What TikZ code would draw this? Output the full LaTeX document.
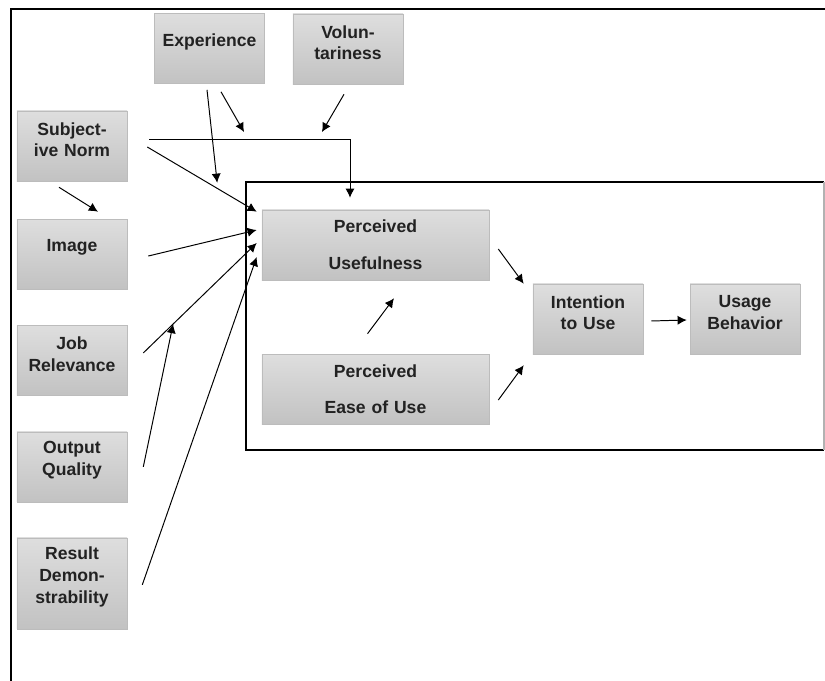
\documentclass[tikz,border=0pt]{standalone}
\usepackage{fontspec}
\setmainfont{Liberation Sans}
\usepackage{tikz}
\usetikzlibrary{positioning,calc,arrows.meta}
\usepackage{xcolor}
\definecolor{boxtop}{HTML}{DEDEDE}
\definecolor{boxbot}{HTML}{C2C2C2}
\definecolor{boxline}{HTML}{BCBCBC}
\definecolor{txt}{HTML}{222222}
\tikzstyle{box} = [rectangle, draw=boxline, top color=boxtop, bottom color=boxbot, text centered, inner sep=0pt, text=txt]
\tikzstyle{block} = [box, text width=2.7cm, minimum width=2.75cm, minimum height=1.75cm, execute at end node={\endgraf\vspace*{9pt}}, font=\bfseries\fontsize{12.5}{15.5}\selectfont]
\tikzstyle{wide} = [box, minimum width=5.675cm, text width=5.6cm, minimum height=1.75cm, font=\bfseries\fontsize{12.5}{26}\selectfont]
\tikzstyle{line} = [draw, line width=0.7pt, -{Latex[length=6.5pt,width=6.5pt]}]
\tikzstyle{frame} = [draw, line width=0.9pt]

\begin{document}
\begin{tikzpicture}[x=0.025cm, y=-0.025cm]
  	\useasboundingbox (0,0) rectangle (825,681);
  	%% frames
  	\draw[frame] (825,9) -- (11,9) -- (11,681);
  	\draw[frame] (824,182) -- (246,182) -- (246,450) -- (824,450);
  	\draw[frame, draw=black!30] (824,182) -- (824,450);
  	%% moderators
  	\node[block] (Exp) at (209.5,48.5) {Experience};
  	\node[block] (Vol) at (348,49) {Volun-\\tariness};
  	%% left column
  	\node[block] (SN) at (72,146) {Subject-\\ive Norm};
  	\node[block, below of=SN, node distance=2.7cm] (Img) {Image};
  	\node[block, below of=Img, node distance=2.66cm] (JR) {Job\\Relevance};
  	\node[block, below of=JR, node distance=2.66cm] (OQ) {Output\\Quality};
  	\node[block, below of=OQ, node distance=2.91cm, minimum height=2.275cm] (RD) {Result\\Demon-\\strability};
  	%% core model
  	\node[wide] (PU) at (375.5,245) {Perceived\\Usefulness};
  	\node[wide, below of=PU, node distance=3.6cm] (PEOU) {Perceived\\Ease of Use};
  	\node[block] (ITU) at (588,319) {Intention\\to Use};
  	\node[block, right of=ITU, node distance=3.925cm] (UB) {Usage\\Behavior};
  	%% edges
  	\path[line] ($(SN.east)+(22,-7)$) -| coordinate[pos=0.246] (modE) coordinate[pos=0.42] (modV) ($(PU.north)+(-25.5,-12)$);
  	\path[line] ($(SN.east)+(20,1)$) -- coordinate[pos=0.645] (modX) ($(PU.north west)+(-5,2)$);
  	\path[line] ($(SN.south)+(-13,6)$) -- ($(Img.north)+(26,-7)$);
  	\path[line] ($(Img.east)+(21,2)$) -- ($(PU.west)+(-5,-15)$);
  	\path[line] ($(JR.east)+(16,-7.5)$) -- coordinate[pos=0.263] (modJ) ($(PU.west)+(-5,-2)$);
  	\path[line] ($(OQ.east)+(16,0)$) -- (modJ);
  	\path[line] ($(RD.east)+(15,1.5)$) -- ($(PU.west)+(-5,12)$);
  	\path[line, shorten >=0.15cm] ($(Exp.south)+(-2.5,6)$) -- (modX);
  	\path[line, shorten >=0.2cm] ($(Exp.south)+(11.5,8)$) -- (modE);
  	\path[line, shorten >=0.2cm] ($(Vol.south)+(-4,10)$) -- (modV);
  	\path[line] ($(PEOU.north)+(-8,-20)$) -- ($(PU.south)+(18.5,18)$);
  	\path[line] ($(PU.east)+(9,4)$) -- ($(ITU.north west)+(-9,0)$);
  	\path[line] ($(PEOU.east)+(9,11)$) -- ($(ITU.south west)+(-9,11)$);
  	\path[line] ($(ITU.east)+(8,2)$) -- ($(UB.west)+(-3,1)$);
\end{tikzpicture}
\end{document}
